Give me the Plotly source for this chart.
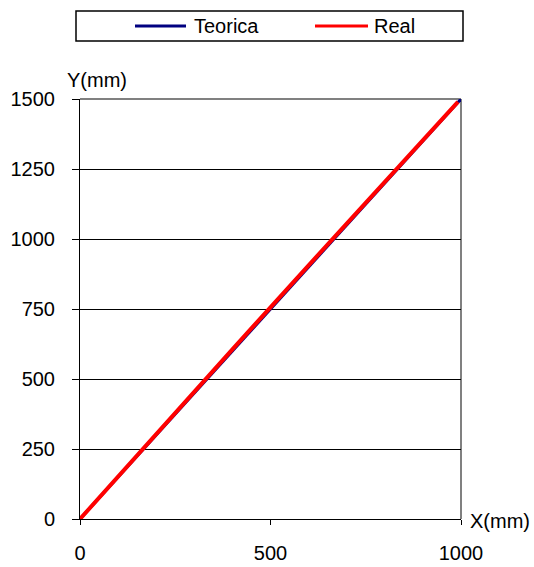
import plotly.graph_objects as go

# Theoretical vs. measured trajectory (mm)
teorica_x = [0, 1000]
teorica_y = [0, 1500]

real_x = [0, 200, 400, 600, 800, 992]
real_y = [0, 305, 606, 906, 1205, 1490]

x_ticks = [0, 500, 1000]
y_ticks = [0, 250, 500, 750, 1000, 1250, 1500]

W, H = 534, 567
L, R, T, B = 80, 461, 99, 519  # plot area in pixels


def px(x):
    return (x - L) / (R - L)


def py(y):
    return (B - y) / (B - T)


FONT = dict(family="Liberation Sans, Arial, sans-serif", size=20, color="black")

fig = go.Figure()
fig.add_trace(go.Scatter(x=teorica_x, y=teorica_y, mode="lines", name="Teorica",
                         line=dict(color="#000080", width=3), showlegend=False))
fig.add_trace(go.Scatter(x=real_x, y=real_y, mode="lines", name="Real",
                         line=dict(color="#ff0000", width=4), showlegend=False))

fig.update_layout(
    width=W, height=H,
    margin=dict(l=L, r=W - R, t=T, b=H - B, pad=0, autoexpand=False),
    paper_bgcolor="white", plot_bgcolor="white",
    font=FONT,
    xaxis=dict(range=[0, 1000], tickvals=x_ticks, showgrid=False, zeroline=False,
               showline=True, linecolor="black", linewidth=1,
               ticks="outside", ticklen=5, tickcolor="black",
               ticklabelstandoff=11, tickfont=FONT, automargin=False),
    yaxis=dict(range=[0, 1500], tickvals=y_ticks, showgrid=True, gridcolor="black",
               gridwidth=1, zeroline=False,
               showline=True, linecolor="black", linewidth=1,
               ticks="outside", ticklen=7, tickcolor="black",
               ticklabelstandoff=13, tickfont=FONT, automargin=False),
)

# Grey top and right frame
fig.add_shape(type="line", xref="paper", yref="paper", x0=0, x1=1, y0=1, y1=1,
              line=dict(color="#808080", width=2), layer="below")
fig.add_shape(type="line", xref="paper", yref="paper", x0=1, x1=1, y0=0, y1=1,
              line=dict(color="#808080", width=2), layer="below")

# Axis titles
fig.add_annotation(text="Y(mm)", xref="paper", yref="paper", x=px(97), y=py(80),
                   showarrow=False, font=FONT, xanchor="center", yanchor="middle")
fig.add_annotation(text="X(mm)", xref="paper", yref="paper", x=px(468), y=py(521),
                   showarrow=False, font=FONT, xanchor="left", yanchor="middle")

# Legend box
fig.add_shape(type="rect", xref="paper", yref="paper", x0=px(76), x1=px(463),
              y0=py(41), y1=py(11), line=dict(color="black", width=1.5),
              fillcolor="white")
fig.add_shape(type="line", xref="paper", yref="paper", x0=px(135), x1=px(186),
              y0=py(26), y1=py(26), line=dict(color="#000080", width=3))
fig.add_annotation(text="Teorica", xref="paper", yref="paper", x=px(192), y=py(26),
                   showarrow=False, font=FONT, xanchor="left", yanchor="middle")
fig.add_shape(type="line", xref="paper", yref="paper", x0=px(315), x1=px(368),
              y0=py(26), y1=py(26), line=dict(color="#ff0000", width=3))
fig.add_annotation(text="Real", xref="paper", yref="paper", x=px(372), y=py(26),
                   showarrow=False, font=FONT, xanchor="left", yanchor="middle")

fig.write_html("out.html")
